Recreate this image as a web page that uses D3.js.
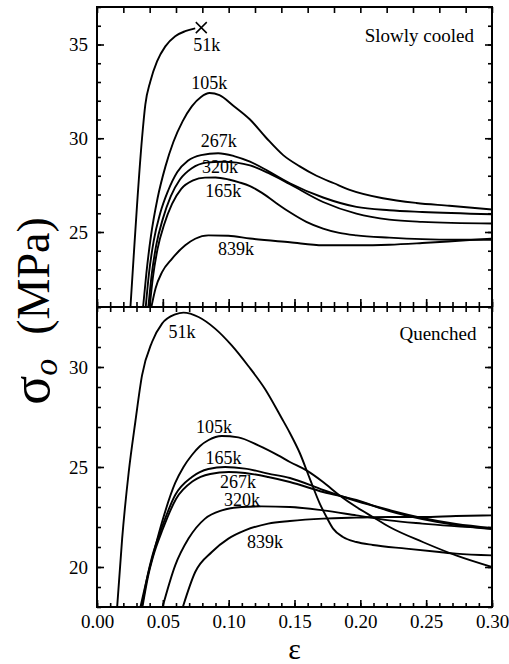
<!DOCTYPE html>
<html><head><meta charset="utf-8">
<script src="https://cdn.jsdelivr.net/npm/d3@7"></script>
<style>
html,body{margin:0;padding:0;background:#fff;}
svg, svg text{font-family:"Liberation Serif","DejaVu Serif",serif;}
</style>
</head><body>
<svg id="chart" width="509" height="664"></svg>
<script>
// ---------------- DATA ----------------
const weights = ["51k", "105k", "165k", "267k", "320k", "839k"];

// Slowly cooled panel: [strain, stress MPa]
const slow51  = [[0.0254,21],[0.0279,23.75],[0.0304,26.43],[0.0342,30.0],[0.0367,31.79],[0.0405,33.03],[0.0456,34.1],[0.0519,34.9],[0.0594,35.44],[0.067,35.71],[0.0746,35.86]];
const slow105 = [[0.035,21],[0.0375,22.8],[0.041,24.8],[0.046,26.8],[0.052,28.5],[0.058,29.8],[0.065,30.9],[0.072,31.7],[0.079,32.2],[0.0855,32.41],[0.093,32.3],[0.1033,31.75],[0.1162,31.0],[0.1288,30.0],[0.1414,29.1],[0.154,28.5],[0.1667,28.0],[0.18,27.6],[0.1919,27.25],[0.2171,26.8],[0.2424,26.55],[0.2676,26.4],[0.30,26.2]];
const slow165 = [[0.040,21],[0.0425,22.6],[0.046,24.1],[0.051,25.4],[0.057,26.5],[0.064,27.3],[0.073,27.75],[0.082,27.9],[0.090,27.91],[0.100,27.8],[0.108,27.65],[0.1162,27.45],[0.125,27.1],[0.135,26.6],[0.1465,26.05],[0.159,25.54],[0.1717,25.18],[0.184,24.95],[0.197,24.82],[0.222,24.7],[0.247,24.62],[0.272,24.59],[0.30,24.59]];
const slow267 = [[0.037,21],[0.0395,22.8],[0.043,24.5],[0.048,26.0],[0.054,27.2],[0.061,28.2],[0.069,28.8],[0.079,29.1],[0.092,29.2],[0.104,29.05],[0.1162,28.75],[0.13,28.25],[0.1465,27.6],[0.1717,26.84],[0.197,26.34],[0.222,26.16],[0.247,26.07],[0.30,25.95]];
const slow320 = [[0.039,21],[0.0415,22.7],[0.045,24.3],[0.050,25.7],[0.056,26.9],[0.063,27.8],[0.072,28.4],[0.083,28.7],[0.095,28.75],[0.106,28.7],[0.1162,28.55],[0.13,28.15],[0.1465,27.55],[0.1717,26.6],[0.197,25.98],[0.222,25.66],[0.247,25.54],[0.30,25.45]];
const slow839 = [[0.0413,21],[0.0445,22.0],[0.0494,22.86],[0.0569,23.57],[0.067,24.29],[0.0746,24.64],[0.0846,24.82],[0.0998,24.8],[0.1162,24.65],[0.1465,24.45],[0.1717,24.29],[0.197,24.29],[0.222,24.32],[0.247,24.41],[0.272,24.52],[0.30,24.65]];
const slowBreak = [0.0792, 35.9];   // fracture point (x mark)

// Quenched panel
const quench51  = [[0.0153,18],[0.0191,21.42],[0.0241,24.75],[0.0291,27.25],[0.0342,29.58],[0.0418,31.25],[0.0494,32.17],[0.0594,32.63],[0.0657,32.72],[0.0771,32.5],[0.0897,31.92],[0.1023,31.08],[0.1149,30.05],[0.1276,28.9],[0.1402,27.45],[0.1465,26.7],[0.154,25.7],[0.1616,24.42],[0.1692,23.17],[0.1743,22.5],[0.1793,21.92],[0.1868,21.5],[0.197,21.25],[0.2095,21.1],[0.2348,20.92],[0.26,20.75],[0.2727,20.67],[0.30,20.58]];
const quench105 = [[0.033,18],[0.0392,19.75],[0.043,20.7],[0.0494,22.25],[0.0594,24.2],[0.0657,25.0],[0.0721,25.6],[0.0783,26.05],[0.0848,26.35],[0.0948,26.55],[0.1073,26.48],[0.1225,26.08],[0.1376,25.58],[0.1465,25.25],[0.1591,24.83],[0.1717,24.25],[0.1843,23.58],[0.197,23.0],[0.2095,22.5],[0.2222,22.0],[0.2474,21.25],[0.2727,20.58],[0.30,20.0]];
const quench165 = [[0.034,18],[0.0385,19.6],[0.0418,20.5],[0.0494,22.0],[0.0594,23.6],[0.0721,24.5],[0.0846,24.9],[0.0973,25.0],[0.1124,24.92],[0.13,24.67],[0.1465,24.45],[0.1717,23.85],[0.197,23.3],[0.222,22.85],[0.247,22.45],[0.2727,22.15],[0.30,21.95]];
const quench267 = [[0.0345,18],[0.039,19.6],[0.0425,20.5],[0.050,21.9],[0.060,23.4],[0.073,24.3],[0.086,24.65],[0.10,24.75],[0.1124,24.7],[0.13,24.5],[0.1465,24.25],[0.1717,23.75],[0.197,23.35],[0.222,22.8],[0.247,22.4],[0.2727,22.1],[0.30,21.9]];
const quench320 = [[0.0498,18],[0.0594,20.08],[0.0695,21.42],[0.0821,22.42],[0.0948,22.83],[0.11,23.0],[0.1251,23.03],[0.1465,23.0],[0.1717,22.83],[0.197,22.58],[0.222,22.33],[0.247,22.17],[0.30,21.92]];
const quench839 = [[0.0652,18],[0.0746,19.75],[0.0872,20.75],[0.0998,21.42],[0.1124,21.83],[0.13,22.17],[0.1465,22.3],[0.1717,22.42],[0.197,22.47],[0.222,22.5],[0.247,22.5],[0.2727,22.55],[0.30,22.58]];

// label anchors [strain, stress] in order of `weights`
const slowLabelPos   = [[0.0834,34.63],[0.0852,32.64],[0.0958,26.87],[0.0924,29.54],[0.0935,28.16],[0.1056,23.8]];
const quenchLabelPos = [[0.0645,31.47],[0.0889,26.7],[0.0961,25.17],[0.1071,23.95],[0.1101,23.05],[0.1276,20.95]];

const xTickValues = [0, 0.05, 0.10, 0.15, 0.20, 0.25, 0.30];
const slowYTicks = [25, 30, 35];
const quenchYTicks = [20, 25, 30];
const panelTitles = ["Slowly cooled", "Quenched"];
const xTitle = "ε";

// ---------------- DRAW ----------------
const FONT = "'Liberation Serif', 'DejaVu Serif', serif";
const svg = d3.select("#chart");
const L = 97, R = 492, T = 7, MID = 307, B = 607;
const x = d3.scaleLinear().domain([0, 0.30]).range([L, R]);
const yTop = d3.scaleLinear().domain([21, 37]).range([MID, T]);
const yBot = d3.scaleLinear().domain([18, 33]).range([B, MID]);

const panels = [
  {y: yTop, series: [slow51, slow105, slow165, slow267, slow320, slow839], labels: slowLabelPos,
   ticks: slowYTicks, title: panelTitles[0], titlePos: [0.2863, 35.13], top: T, bottom: MID},
  {y: yBot, series: [quench51, quench105, quench165, quench267, quench320, quench839], labels: quenchLabelPos,
   ticks: quenchYTicks, title: panelTitles[1], titlePos: [0.2882, 31.35], top: MID, bottom: B}
];

const defs = svg.append("defs");
const tickFont = 19, labelFont = 18;

function styleAxis(g) {
  g.attr("font-family", FONT);
  g.select(".domain").remove();
  g.selectAll("line").attr("stroke", "#000").attr("stroke-width", 1.6);
  g.selectAll("text").attr("font-size", tickFont).attr("font-family", FONT).attr("fill", "#000");
}

panels.forEach((p, i) => {
  defs.append("clipPath").attr("id", "clip" + i)
    .append("rect").attr("x", L).attr("y", p.top).attr("width", R - L).attr("height", p.bottom - p.top);

  const [d0, d1] = p.y.domain();
  const minor = d3.range(Math.ceil(d0), Math.floor(d1) + 1);

  const gl = svg.append("g").attr("transform", `translate(${L},0)`)
    .call(d3.axisLeft(p.y).tickValues(minor).tickSize(-4).tickFormat(""));
  const glm = svg.append("g").attr("transform", `translate(${L},0)`)
    .call(d3.axisLeft(p.y).tickValues(p.ticks).tickSize(-7).tickPadding(9).tickFormat(d3.format("d")));
  const gr = svg.append("g").attr("transform", `translate(${R},0)`)
    .call(d3.axisRight(p.y).tickValues(minor).tickSize(-4).tickFormat(""));
  const grm = svg.append("g").attr("transform", `translate(${R},0)`)
    .call(d3.axisRight(p.y).tickValues(p.ticks).tickSize(-7).tickFormat(""));
  [gl, glm, gr, grm].forEach(styleAxis);

  const line = d3.line().x(d => x(d[0])).y(d => p.y(d[1])).curve(d3.curveMonotoneX);
  svg.append("g").attr("clip-path", `url(#clip${i})`)
    .selectAll("path").data(p.series).join("path")
    .attr("d", line).attr("fill", "none").attr("stroke", "#000").attr("stroke-width", 1.9)
    .attr("stroke-linejoin", "round");

  svg.append("g").selectAll("text").data(p.labels).join("text")
    .attr("x", d => x(d[0])).attr("y", d => p.y(d[1]))
    .attr("text-anchor", "middle").attr("font-size", labelFont).attr("font-family", FONT).attr("fill", "#000")
    .text((d, k) => weights[k]);

  svg.append("text").attr("x", x(p.titlePos[0])).attr("y", p.y(p.titlePos[1]))
    .attr("text-anchor", "end").attr("font-size", 19).attr("font-family", FONT).attr("fill", "#000").text(p.title);
});

svg.append("path")
  .attr("transform", `translate(${x(slowBreak[0])},${yTop(slowBreak[1])})`)
  .attr("d", d3.symbol().type(d3.symbolTimes).size(80)())
  .attr("fill", "none").attr("stroke", "#000").attr("stroke-width", 1.5);

const minorX = d3.range(0, 31).map(v => v / 100);
function xAxisGroup(axis, y) {
  const g = svg.append("g").attr("transform", `translate(0,${y})`).call(axis);
  styleAxis(g);
  return g;
}
xAxisGroup(d3.axisBottom(x).tickValues(minorX).tickSize(-4).tickFormat(""), B);
xAxisGroup(d3.axisBottom(x).tickValues(xTickValues).tickSize(-7).tickPadding(8).tickFormat(d3.format(".2f")), B);
xAxisGroup(d3.axisBottom(x).tickValues(minorX).tickSize(-5).tickFormat(""), MID);
xAxisGroup(d3.axisBottom(x).tickValues(xTickValues).tickSize(-8).tickFormat(""), MID);
xAxisGroup(d3.axisTop(x).tickValues(minorX).tickSize(-5).tickFormat(""), MID);
xAxisGroup(d3.axisTop(x).tickValues(d3.range(0, 16).map(v => v * 0.02)).tickSize(-6).tickFormat(""), T);

svg.append("rect").attr("x", L).attr("y", T).attr("width", R - L).attr("height", B - T)
  .attr("fill", "none").attr("stroke", "#000").attr("stroke-width", 2);
svg.append("line").attr("x1", L).attr("x2", R).attr("y1", MID).attr("y2", MID)
  .attr("stroke", "#000").attr("stroke-width", 2);

svg.append("text").attr("x", (L + R) / 2).attr("y", 659).attr("text-anchor", "middle")
  .attr("font-size", 30).attr("font-family", FONT).attr("fill", "#000").text(xTitle);

const yt = svg.append("text").attr("transform", `translate(49,${(T + B) / 2 + 4}) rotate(-90)`)
  .attr("text-anchor", "middle").attr("font-family", FONT).attr("fill", "#000");
yt.append("tspan").attr("font-size", 54).text("σ");
yt.append("tspan").attr("font-size", 34).attr("font-style", "italic").attr("dy", 8).text("o");
yt.append("tspan").attr("font-size", 46).attr("dy", -8).attr("dx", 24).text("(MPa)");
</script>
</body></html>
